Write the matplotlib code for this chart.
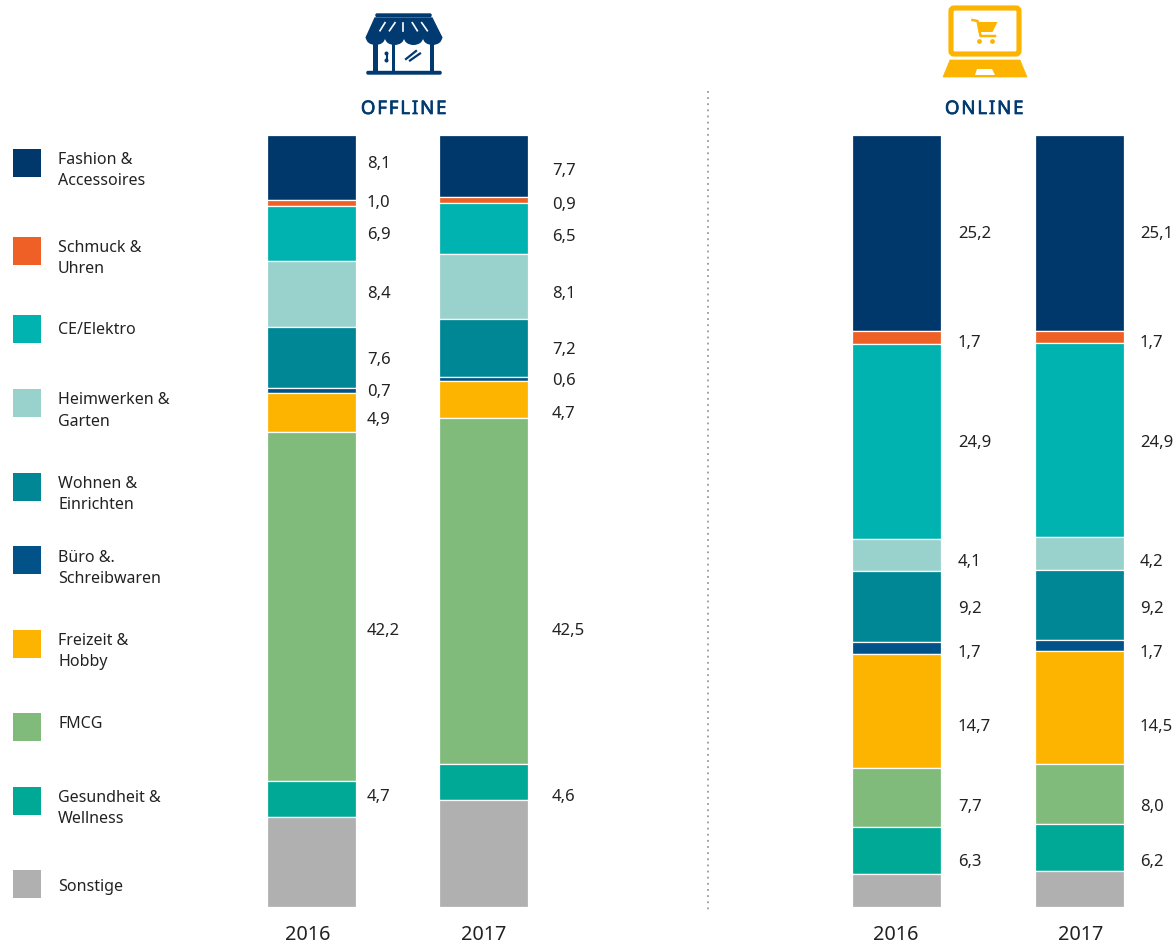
import numpy as np
from matplotlib import pyplot as plt
from matplotlib import patheffects as pe
from matplotlib.patches import Rectangle, Polygon, FancyBboxPatch, Ellipse, Circle

plt.rcParams['font.family'] = ['Noto Sans', 'DejaVu Sans']

categories = ['Fashion &\nAccessoires', 'Schmuck &\nUhren', 'CE/Elektro', 'Heimwerken &\nGarten',
              'Wohnen &\nEinrichten', 'Büro &.\nSchreibwaren', 'Freizeit &\nHobby', 'FMCG',
              'Gesundheit &\nWellness', 'Sonstige']
colors = ['#00386B', '#EE6025', '#00B2B0', '#99D1CC', '#008796', '#005288', '#FDB400', '#80BB7C',
          '#00A996', '#B0B0B0']
years = ['2016', '2017']

# printed labels, Sonstige has none
labels_off_2016 = ['8,1', '1,0', '6,9', '8,4', '7,6', '0,7', '4,9', '42,2', '4,7']
labels_off_2017 = ['7,7', '0,9', '6,5', '8,1', '7,2', '0,6', '4,7', '42,5', '4,6']
labels_on_2016 = ['25,2', '1,7', '24,9', '4,1', '9,2', '1,7', '14,7', '7,7', '6,3']
labels_on_2017 = ['25,1', '1,7', '24,9', '4,2', '9,2', '1,7', '14,5', '8,0', '6,2']

# segment sizes, % of bar height
offline_2016 = [8.39, 0.83, 7.09, 8.60, 7.86, 0.65, 5.01, 45.18, 4.75, 11.63]
offline_2017 = [7.99, 0.84, 6.58, 8.42, 7.47, 0.52, 4.81, 44.84, 4.66, 13.86]
online_2016 = [25.45, 1.68, 25.26, 4.08, 9.17, 1.58, 14.77, 7.64, 6.09, 4.27]
online_2017 = [25.35, 1.59, 25.16, 4.18, 9.17, 1.42, 14.60, 7.77, 6.15, 4.60]

# layout, in pixels of the picture
W, H = 1176, 944
bar_top, bar_bottom = 135, 907
swatch_y = [163, 251, 329, 403, 487, 560, 644, 727, 801, 884]
legend_y = [170.5, 258.5, 330, 411, 494.5, 568.5, 651.5, 724, 808.5, 887]
label_y_off16 = [164, 203, 235, 294, 360, 392, 420, 631, 797]
label_y_off17 = [171, 205, 237, 294, 350, 381, 414, 631, 797]
label_y_on = [234, 343, 443, 562, 609, 653, 727, 807, 862]

NAVY = '#003A70'
YELLOW = '#FDB400'
TEXT = '#222222'

fig = plt.figure(figsize=(W / 100, H / 100), dpi=100, facecolor='white')


def stacked(x0, x1, a, b):
    # axes runs from left edge of first bar to right edge of the second
    w = 89.2
    ax = fig.add_axes([x0 / W, 1 - bar_bottom / H, (x1 - x0) / W, (bar_bottom - bar_top) / H])
    pitch = (x1 - x0) - w
    for i, vals in enumerate([a, b]):
        vals = np.array(vals)
        share = vals / vals.sum() * 100
        bottom = 0
        for j, s in enumerate(share):
            ax.bar(i, s, width=w / pitch, bottom=bottom, color=colors[j], edgecolor='white', linewidth=0.9)
            bottom += s
    ax.set_xlim(-0.5 * w / pitch, 1 + 0.5 * w / pitch)
    ax.set_ylim(100, 0)
    ax.axis('off')
    return ax


stacked(267.2, 528.4, offline_2016, offline_2017)
stacked(852.2, 1124.4, online_2016, online_2017)

# overlay in pixel coordinates for legend, labels and icons
ov = fig.add_axes([0, 0, 1, 1], zorder=5)
ov.set_xlim(0, W)
ov.set_ylim(H, 0)
ov.axis('off')
ov.patch.set_alpha(0)

for col, name, sy, y in zip(colors, categories, swatch_y, legend_y):
    ov.add_patch(Rectangle((13, sy - 14), 28, 28, color=col, lw=0))
    ov.text(58, y, name, fontsize=11.5, color=TEXT, va='center', ha='left', linespacing=1.42)

for x, labs, ys in [(367, labels_off_2016, label_y_off16), (552, labels_off_2017, label_y_off17),
                    (958, labels_on_2016, label_y_on), (1140, labels_on_2017, label_y_on)]:
    for lab, y in zip(labs, ys):
        ov.text(x, y, lab, fontsize=12, color=TEXT, va='center', ha='left')

for x, yr in zip([308, 484, 896, 1081], years * 2):
    ov.text(x, 935, yr, fontsize=14.3, color=TEXT, va='center', ha='center')

for x, title in [(403.5, 'O F F L I N E'), (984, 'O N L I N E')]:
    t = ov.text(x, 109, title.replace(' ', '\u200a'), fontsize=13.4, color=NAVY, va='center', ha='center')
    t.set_path_effects([pe.withStroke(linewidth=0.5, foreground=NAVY)])

# dotted divider
ov.plot([708, 708], [91, 911], color='#9a9a9a', lw=1.3, linestyle=(0, (1, 2.4)))


# store icon
def store():
    ov.add_patch(FancyBboxPatch((376, 14), 55, 2.5, boxstyle='round,pad=0,rounding_size=1', fc=NAVY, ec=NAVY, lw=1))
    ov.add_patch(Polygon([(375, 18), (432, 18), (442, 38), (366, 38)], fc=NAVY, ec=NAVY, lw=1))
    for i in range(4):
        cx = 366 + 76 / 4 * (i + 0.5)
        ov.add_patch(Ellipse((cx, 38), 19, 14, fc=NAVY, ec='none'))
    # awning slits
    for (x0, x1) in [(385, 380), (395, 389.5), (403.3, 403.3), (412.3, 417.3), (421.7, 427.3)]:
        ov.plot([x0, x1], [22.7, 30.7], color='white', lw=1.2)
    # columns, door edge, base
    ov.add_patch(Rectangle((373, 42), 4.5, 30, color=NAVY, lw=0))
    ov.add_patch(Rectangle((429.5, 42), 4.5, 30, color=NAVY, lw=0))
    ov.add_patch(Rectangle((392, 44), 2.5, 28, color=NAVY, lw=0))
    ov.add_patch(FancyBboxPatch((367, 71.5), 74, 2.5, boxstyle='round,pad=0,rounding_size=1', fc=NAVY, ec=NAVY, lw=1))
    # keyhole
    ov.add_patch(Circle((386.5, 53.5), 2, color=NAVY, lw=0))
    ov.add_patch(Circle((386.5, 60.5), 2, color=NAVY, lw=0))
    ov.plot([386.5, 386.5], [53.5, 60.5], color=NAVY, lw=1.5)
    # window marks
    ov.plot([406, 416], [59, 51], color=NAVY, lw=1.6)
    ov.plot([410, 420], [60.5, 53.5], color=NAVY, lw=1.6)


# laptop icon
def laptop():
    ov.add_patch(FancyBboxPatch((951, 8), 68, 46, boxstyle='round,pad=0,rounding_size=3', fc='white', ec=YELLOW, lw=3.7))
    ov.add_patch(Polygon([(950, 60), (1020, 60), (1027, 77), (943, 77)], fc=YELLOW, ec=YELLOW, lw=0.5, joinstyle='round'))
    ov.add_patch(Polygon([(977, 69), (992, 69), (995, 75), (975, 75)], fc='white', ec='none'))
    # cart
    ov.add_patch(Polygon([(978, 22), (997.5, 22), (992.5, 32), (980, 32)], fc=YELLOW, ec='none'))
    ov.plot([972.5, 977.5, 980.5, 995], [20, 21, 36, 36], color=YELLOW, lw=1.8, solid_joinstyle='round')
    ov.add_patch(Circle((979.5, 41.5), 2.4, color=YELLOW, lw=0))
    ov.add_patch(Circle((992.5, 41.5), 2.4, color=YELLOW, lw=0))


store()
laptop()

fig.savefig('out.png', dpi=100)
